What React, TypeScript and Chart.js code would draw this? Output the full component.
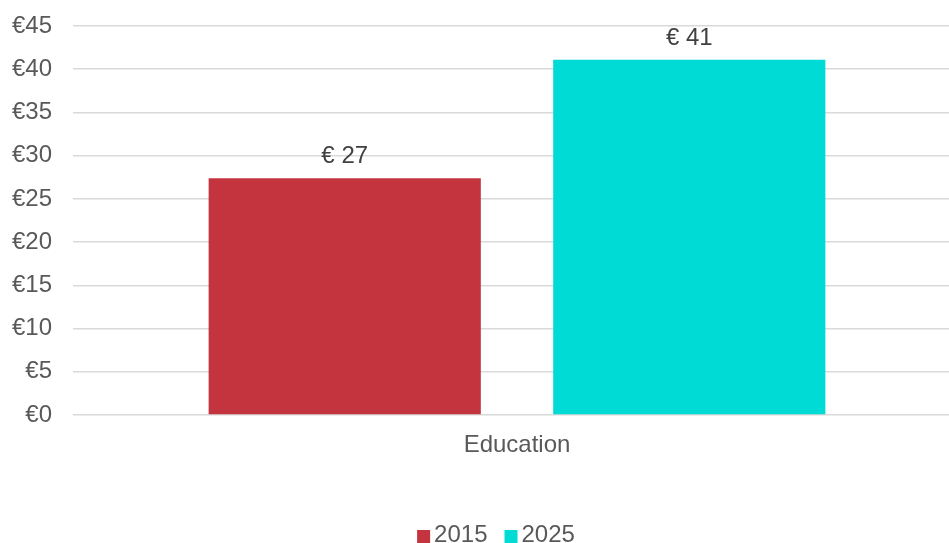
import React, { useEffect, useRef } from "react";
import { Chart, registerables } from "chart.js";

Chart.register(...registerables);

const categories = ["Education"];
const seriesLabels = ["2015", "2025"];
const values2015 = [27.4];
const values2025 = [41.1];
const yTicks = [0, 5, 10, 15, 20, 25, 30, 35, 40, 45];
const colors = ["#C4343F", "#00DBD5"];

const FONT = '"Liberation Sans", Arial, sans-serif';

const dataLabelPlugin = {
  id: "dataLabels",
  afterDatasetsDraw(chart: any) {
    const ctx = chart.ctx;
    ctx.save();
    ctx.font = `24px ${FONT}`;
    ctx.fillStyle = "#404040";
    ctx.textAlign = "center";
    ctx.textBaseline = "alphabetic";
    chart.data.datasets.forEach((ds: any, i: number) => {
      const meta = chart.getDatasetMeta(i);
      meta.data.forEach((el: any, j: number) => {
        const v = ds.data[j];
        ctx.fillText("€ " + Math.round(v), el.x, el.y - 15);
      });
    });
    ctx.restore();
  },
};

const legendPlugin = {
  id: "customLegend",
  afterDraw(chart: any) {
    const ctx = chart.ctx;
    ctx.save();
    ctx.font = `24px ${FONT}`;
    const box = 13;
    const gap = 4;
    const itemGap = 17;
    const items = chart.data.datasets.map((ds: any) => ({
      label: ds.label,
      color: ds.backgroundColor,
      w: ctx.measureText(ds.label).width,
    }));
    let total = 0;
    items.forEach((it: any, i: number) => {
      total += box + gap + it.w + (i < items.length - 1 ? itemGap : 0);
    });
    const centerX = 496;
    const baseline = 542;
    let x = centerX - total / 2;
    items.forEach((it: any) => {
      ctx.fillStyle = it.color;
      ctx.fillRect(x, baseline - 12, box, box);
      x += box + gap;
      ctx.fillStyle = "#595959";
      ctx.textAlign = "left";
      ctx.textBaseline = "alphabetic";
      ctx.fillText(it.label, x, baseline);
      x += it.w + itemGap;
    });
    ctx.restore();
  },
};

export default function App() {
  const ref = useRef<HTMLCanvasElement>(null);
  useEffect(() => {
    document.body.style.margin = "0";
    const chart = new Chart(ref.current as HTMLCanvasElement, {
      type: "bar",
      data: {
        labels: categories,
        datasets: [
          { label: seriesLabels[0], data: values2015, backgroundColor: colors[0] },
          { label: seriesLabels[1], data: values2025, backgroundColor: colors[1] },
        ],
      },
      options: {
        responsive: false,
        animation: false,
        maintainAspectRatio: false,
        layout: { padding: { top: 26, bottom: 0, left: 0, right: 0 } },
        datasets: { bar: { categoryPercentage: 0.776, barPercentage: 0.79 } },
        plugins: {
          legend: { display: false },
          tooltip: { enabled: false },
        },
        scales: {
          x: {
            grid: { display: false, drawTicks: false },
            border: { display: false },
            ticks: {
              font: { family: FONT, size: 24 },
              color: "#595959",
              padding: 16,
            },
            afterFit(scale: any) {
              scale.height = 128;
              scale.paddingLeft = 0;
              scale.paddingRight = 0;
            },
          },
          y: {
            min: 0,
            max: 45,
            afterBuildTicks(scale: any) {
              scale.ticks = yTicks.map((v) => ({ value: v }));
            },
            grid: { color: "#D9D9D9", lineWidth: 1.5, drawTicks: false },
            border: { display: false },
            ticks: {
              font: { family: FONT, size: 24 },
              color: "#595959",
              padding: 21,
              callback: (v: any) => "€" + v,
            },
            afterFit(scale: any) {
              scale.width = 73;
              scale.paddingTop = 0;
              scale.paddingBottom = 0;
            },
          },
        },
      },
      plugins: [dataLabelPlugin, legendPlugin],
    });
    return () => chart.destroy();
  }, []);
  return (
    <div style={{ width: 949, height: 543, overflow: "hidden", position: "relative" }}>
      <canvas ref={ref} width={961} height={543} style={{ display: "block" }} />
    </div>
  );
}
